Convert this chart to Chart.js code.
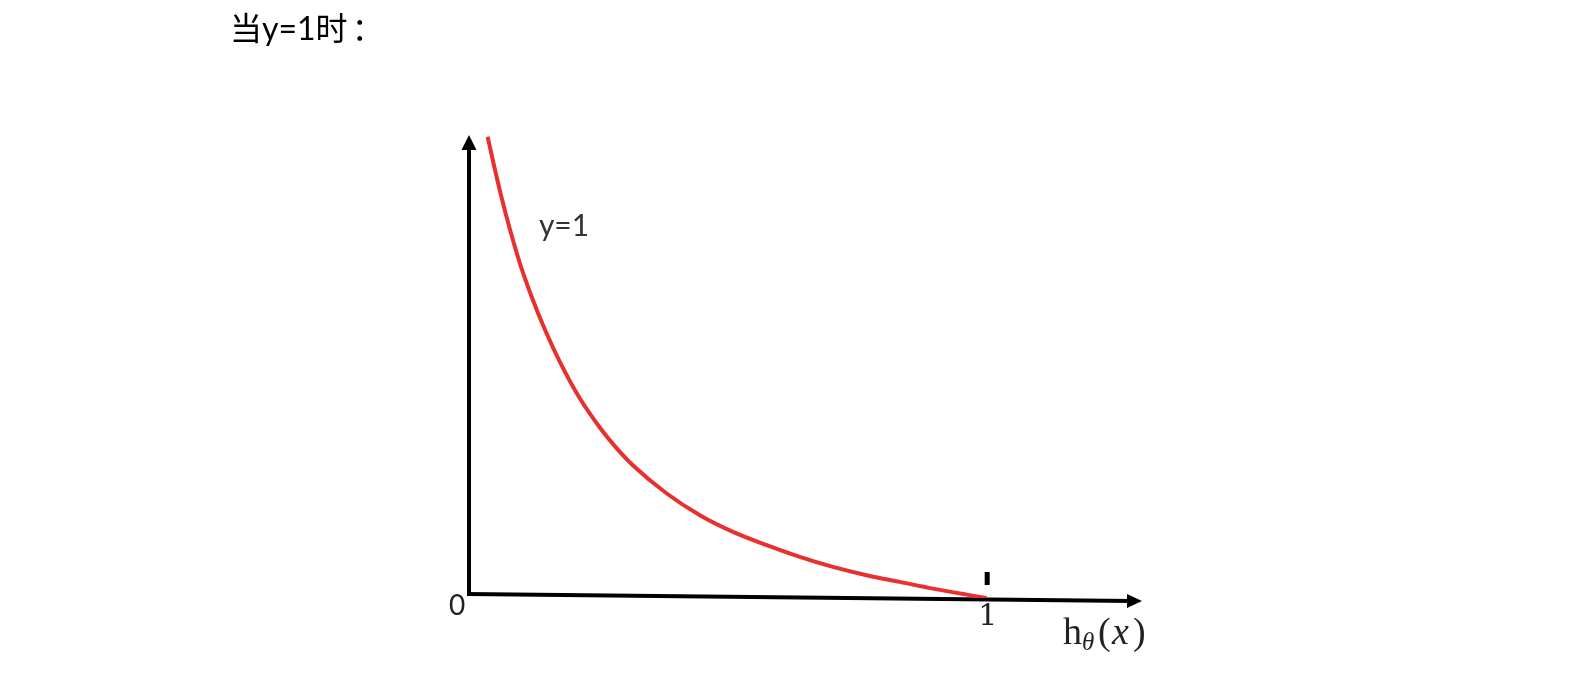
<!DOCTYPE html>
<html>
<head>
<meta charset="utf-8">
<script src="https://cdn.jsdelivr.net/npm/chart.js@4"></script>
<style>
  body { margin: 0; background: #fff; }
  #wrap { position: relative; width: 1586px; height: 690px; }
  #title {
    position: absolute; left: 230px; top: 12px;
    font-family: Lato, "Noto Sans CJK SC", sans-serif;
    font-size: 32px; line-height: 32px; color: #000;
  }
  #title .p { margin-left: 4px; }
</style>
</head>
<body>
<div id="wrap">
  <div id="title">当y=1时<span class="p">：</span></div>
  <canvas id="myChart"></canvas>
</div>
<script>
// curve points: h(x) on x, cost on y
const xValues = [0.036, 0.047, 0.063, 0.079, 0.098, 0.121, 0.147, 0.176, 0.214, 0.253, 0.285, 0.317,
                 0.382, 0.446, 0.510, 0.575, 0.639, 0.703, 0.768, 0.832, 0.896, 0.961, 1.0];
const yValues = [4.613, 4.355, 4.002, 3.687, 3.352, 3.013, 2.68, 2.357, 1.997, 1.703, 1.499, 1.325,
                 1.045, 0.828, 0.661, 0.528, 0.411, 0.311, 0.228, 0.161, 0.094, 0.034, 0];
const curveLabel = 'y=1';
const xTickLabels = ['0', '1'];
const xAxisTitle = 'h';

// axes with arrows, tick mark and labels
const axesPlugin = {
    id: 'axesArrows',
    beforeDatasetsDraw(chart) {
        const ctx = chart.ctx;
        const xs = chart.scales.x;
        const ys = chart.scales.y;
        const x0 = xs.getPixelForValue(0);
        const y0 = ys.getPixelForValue(0);
        const xEnd = xs.right;
        const yTop = ys.top;

        ctx.save();
        ctx.strokeStyle = '#000';
        ctx.fillStyle = '#000';
        ctx.lineWidth = 4;

        // y axis
        ctx.beginPath();
        ctx.moveTo(x0, y0 - 2);
        ctx.lineTo(x0, yTop + 10);
        ctx.stroke();
        ctx.beginPath();
        ctx.moveTo(x0, yTop);
        ctx.lineTo(x0 - 7.5, yTop + 15);
        ctx.lineTo(x0 + 7.5, yTop + 15);
        ctx.closePath();
        ctx.fill();

        // x axis (slightly tilted as in the sketch)
        ctx.beginPath();
        ctx.moveTo(x0 - 2, y0 - 4);
        ctx.lineTo(xEnd - 10, y0 + 3);
        ctx.stroke();
        ctx.beginPath();
        ctx.moveTo(xEnd, y0 + 3);
        ctx.lineTo(xEnd - 15, y0 - 4);
        ctx.lineTo(xEnd - 15, y0 + 10);
        ctx.closePath();
        ctx.fill();

        // small tick above x = 1
        const x1 = xs.getPixelForValue(1);
        ctx.fillRect(x1 - 2, y0 - 26, 5, 13);

        // tick labels
        ctx.textBaseline = 'middle';
        ctx.textAlign = 'center';
        ctx.font = '28px Lato, sans-serif';
        ctx.fillStyle = '#222';
        ctx.fillText(xTickLabels[0], x0 - 12, y0 + 8);
        ctx.font = '30px "DejaVu Serif", serif';
        ctx.fillText(xTickLabels[1], x1 + 1, y0 + 19);

        // axis title h_theta(x)
        ctx.textAlign = 'left';
        ctx.textBaseline = 'alphabetic';
        const ty = y0 + 46;
        ctx.font = '38px "Liberation Serif", serif';
        ctx.fillText(xAxisTitle, 1063, ty);
        ctx.font = 'italic 25px "Liberation Serif", serif';
        ctx.fillText('\u03B8', 1082, ty + 6);
        ctx.font = '38px "Liberation Serif", serif';
        ctx.fillText('(', 1098, ty);
        ctx.font = 'italic 38px "Liberation Serif", serif';
        ctx.fillText('x', 1112, ty);
        ctx.font = '38px "Liberation Serif", serif';
        ctx.fillText(')', 1133, ty);

        // curve label
        ctx.font = '30px Lato, sans-serif';
        ctx.fillStyle = '#333';
        ctx.fillText(curveLabel, xs.getPixelForValue(0.135), ys.getPixelForValue(3.62));
        ctx.restore();
    }
};

const points = xValues.map((x, i) => ({ x: x, y: yValues[i] }));

new Chart(document.getElementById('myChart'), {
    type: 'line',
    data: {
        datasets: [{
            label: curveLabel,
            data: points,
            borderColor: '#e8302e',
            borderWidth: 4,
            pointRadius: 0,
            cubicInterpolationMode: 'monotone',
            fill: false
        }]
    },
    options: {
        responsive: true,
        maintainAspectRatio: false,
        animation: false,
        layout: {
            padding: { left: 469, right: 444, top: 135, bottom: 92 }
        },
        scales: {
            x: { type: 'linear', min: 0, max: 1.3, display: false },
            y: { min: 0, max: 4.63, display: false }
        },
        plugins: {
            legend: { display: false },
            tooltip: { enabled: false }
        }
    },
    plugins: [axesPlugin]
});
</script>
</body>
</html>
